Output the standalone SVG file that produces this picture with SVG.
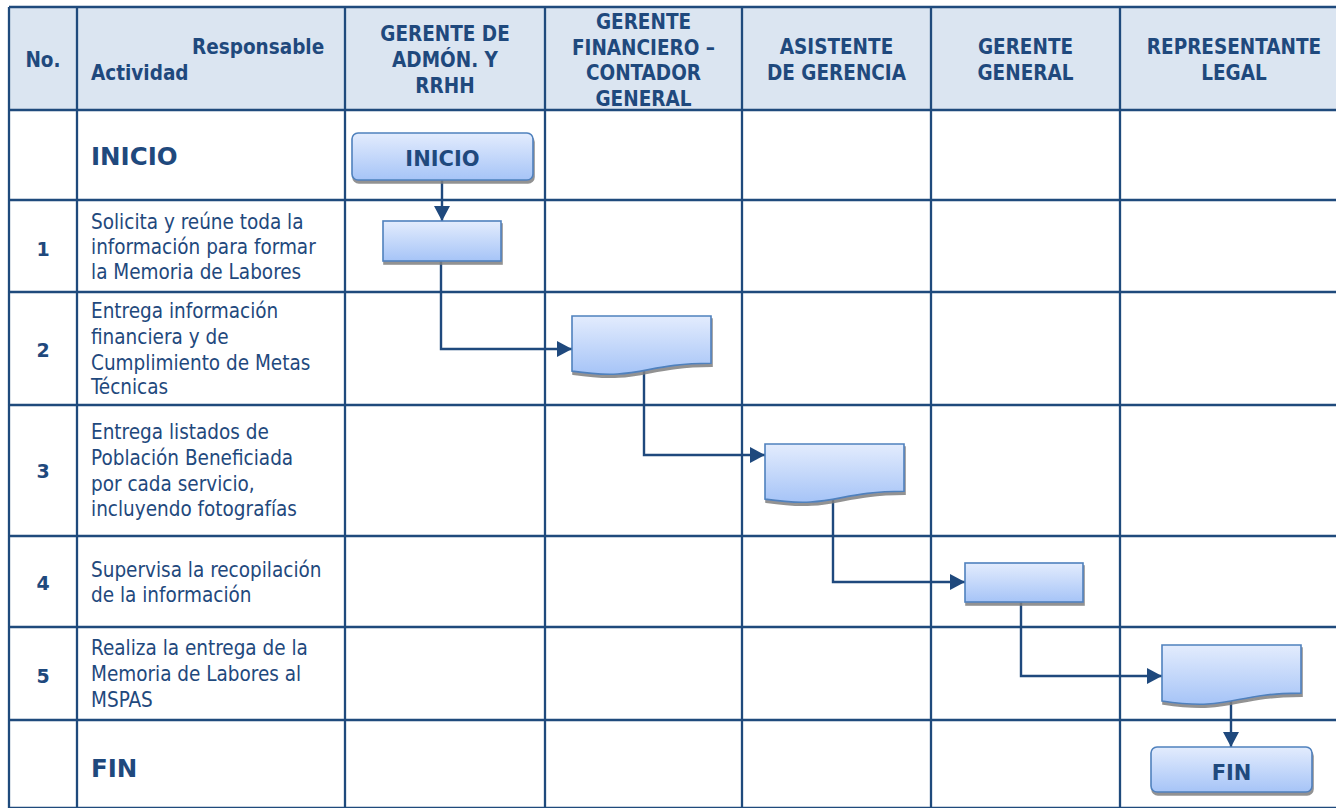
<svg xmlns="http://www.w3.org/2000/svg" width="1336" height="808" viewBox="0 0 1336 808">
<style>
.grid{stroke:#1f4a7c;stroke-width:2.3;fill:none}
.hd{font-family:"DejaVu Sans Condensed","DejaVu Sans",sans-serif;font-stretch:condensed;font-weight:bold;font-size:20.5px;fill:#1f497d}
.bd{font-family:"DejaVu Sans Condensed","DejaVu Sans",sans-serif;font-stretch:condensed;font-size:20.5px;fill:#1f497d}
.num{font-family:"DejaVu Sans",sans-serif;font-weight:bold;font-size:19px;fill:#1f497d;text-anchor:middle}
.big{font-family:"DejaVu Sans",sans-serif;font-weight:bold;font-size:24.5px;fill:#1f497d}
.nt{font-family:"DejaVu Sans",sans-serif;font-weight:bold;font-size:21px;fill:#1f497d;text-anchor:middle}
.shape{fill:url(#g);stroke:#4f81bd;stroke-width:1.6;filter:url(#sh)}
.conn{stroke:#1f497d;stroke-width:2.4;fill:none;marker-end:url(#ar)}
</style>
<defs>
<linearGradient id="g" x1="0" y1="0" x2="0" y2="1">
<stop offset="0" stop-color="#e3ecfd"/>
<stop offset="1" stop-color="#a6c4f7"/>
</linearGradient>
<filter id="sh" x="-10%" y="-10%" width="130%" height="140%">
<feDropShadow dx="1" dy="3" stdDeviation="0.7" flood-color="#7f7f7f" flood-opacity="0.85"/>
</filter>
<marker id="ar" markerUnits="userSpaceOnUse" markerWidth="16" markerHeight="16" refX="15" refY="8" orient="auto">
<path d="M0,0 L15,8 L0,16 Z" fill="#1f497d"/>
</marker>
</defs>
<rect x="0" y="0" width="1336" height="808" fill="#ffffff"/>
<g id="table">
<rect x="9" y="7" width="1338" height="103" fill="#dbe5f1"/>
<path class="grid" d="M9,7 V808 M77,7 V808 M345,7 V808 M545,7 V808 M742,7 V808 M931,7 V808 M1120,7 V808 M1347,7 V808 M9,7 H1347 M9,110 H1347 M9,200 H1347 M9,292 H1347 M9,405 H1347 M9,536 H1347 M9,627 H1347 M9,720 H1347 M9,808 H1347"/>
</g>
<g id="header">
<text class="hd" x="43" y="67" text-anchor="middle">No.</text>
<text class="hd" x="192" y="54">Responsable</text>
<text class="hd" x="91" y="80">Actividad</text>
<text class="hd" text-anchor="middle"><tspan x="445" y="41">GERENTE DE</tspan><tspan x="445" y="67">ADMÓN. Y</tspan><tspan x="445" y="93">RRHH</tspan></text>
<text class="hd" text-anchor="middle"><tspan x="643.5" y="29">GERENTE</tspan><tspan x="643.5" y="54.5">FINANCIERO –</tspan><tspan x="643.5" y="80">CONTADOR</tspan><tspan x="643.5" y="105.5">GENERAL</tspan></text>
<text class="hd" text-anchor="middle"><tspan x="836.5" y="54">ASISTENTE</tspan><tspan x="836.5" y="80">DE GERENCIA</tspan></text>
<text class="hd" text-anchor="middle"><tspan x="1025.5" y="54">GERENTE</tspan><tspan x="1025.5" y="80">GENERAL</tspan></text>
<text class="hd" text-anchor="middle"><tspan x="1234" y="54">REPRESENTANTE</tspan><tspan x="1234" y="80">LEGAL</tspan></text>
</g>
<g id="activities">
<text class="big" x="91" y="165">INICIO</text>
<text class="num" x="43" y="256">1</text>
<text class="bd"><tspan x="91" y="229">Solicita y reúne toda la</tspan><tspan x="91" y="254">información para formar</tspan><tspan x="91" y="279">la Memoria de Labores</tspan></text>
<text class="num" x="43" y="357">2</text>
<text class="bd"><tspan x="91" y="318">Entrega información</tspan><tspan x="91" y="344">financiera y de</tspan><tspan x="91" y="370">Cumplimiento de Metas</tspan><tspan x="91" y="394">Técnicas</tspan></text>
<text class="num" x="43" y="478">3</text>
<text class="bd"><tspan x="91" y="439">Entrega listados de</tspan><tspan x="91" y="465">Población Beneficiada</tspan><tspan x="91" y="491">por cada servicio,</tspan><tspan x="91" y="516">incluyendo fotografías</tspan></text>
<text class="num" x="43" y="590">4</text>
<text class="bd"><tspan x="91" y="577">Supervisa la recopilación</tspan><tspan x="91" y="602">de la información</tspan></text>
<text class="num" x="43" y="683">5</text>
<text class="bd"><tspan x="91" y="655">Realiza la entrega de la</tspan><tspan x="91" y="681">Memoria de Labores al</tspan><tspan x="91" y="707">MSPAS</tspan></text>
<text class="big" x="91" y="777">FIN</text>
</g>
<g id="connectors">
<path class="conn" d="M442,180 V221"/>
<path class="conn" d="M441,255 V349 H572"/>
<path class="conn" d="M644,365 V455 H765"/>
<path class="conn" d="M833,495 V582 H965"/>
<path class="conn" d="M1021,596 V676 H1162"/>
<path class="conn" d="M1231,700 V747"/>
</g>
<g id="n-inicio">
<rect class="shape" x="352" y="133" width="181" height="47" rx="6"/>
<text class="nt" x="442.5" y="166">INICIO</text>
</g>
<g id="n-1">
<rect class="shape" x="383" y="221" width="118" height="40"/>
</g>
<g id="n-2">
<path class="shape" d="M572,316 H711 V363.3 C641.5,363.3 641.5,381.2 572,371.1 Z"/>
</g>
<g id="n-3">
<path class="shape" d="M765,444 H904 V491.3 C834.5,491.3 834.5,509.2 765,499.1 Z"/>
</g>
<g id="n-4">
<rect class="shape" x="965" y="563" width="118" height="39"/>
</g>
<g id="n-5">
<path class="shape" d="M1162,645 H1301 V693.1 C1231.5,693.1 1231.5,711.5 1162,701 Z"/>
</g>
<g id="n-fin">
<rect class="shape" x="1151" y="747" width="161" height="45" rx="6"/>
<text class="nt" x="1231.5" y="780">FIN</text>
</g>
</svg>
